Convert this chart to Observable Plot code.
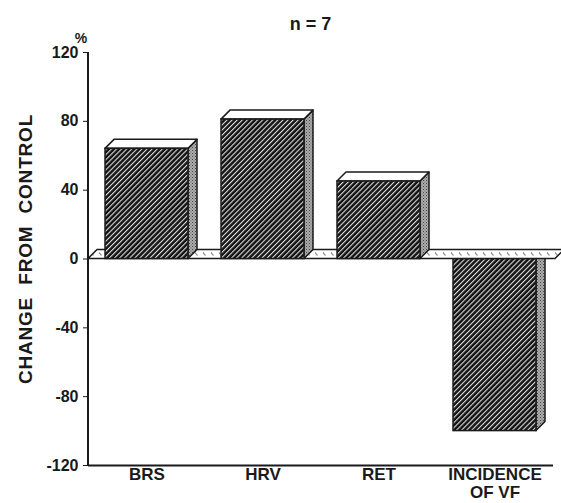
<!DOCTYPE html>
<html><head><meta charset="utf-8">
<script src="https://cdn.jsdelivr.net/npm/d3@7"></script>
<script src="https://cdn.jsdelivr.net/npm/@observablehq/plot@0.6"></script>
<style>
html,body{margin:0;padding:0;background:#fff;}
#chart svg{display:block;}
</style>
</head><body><div id="chart"></div>
<script>
const categories = ["BRS", "HRV", "RET", "INCIDENCE\nOF VF"];
const values = [64, 81, 45, -100];
const yTicks = [-120, -80, -40, 0, 40, 80, 120];
const yDomain = [-120, 120];
const title = "n = 7";
const yLabel = "CHANGE  FROM  CONTROL";
const yUnit = "%";

const data = categories.map((c, i) => ({category: c, value: values[i]}));
const pos = data.filter(d => d.value >= 0);
const neg = data.filter(d => d.value < 0);

const DEPTH = 9;
const ink = "#1a1a1a";
const FONT = "'Liberation Sans', Arial, Helvetica, sans-serif";

function defsMark() {
  const g = d3.create("svg:g");
  const defs = g.append("defs");
  const h = defs.append("pattern").attr("id", "hatch").attr("patternUnits", "userSpaceOnUse")
    .attr("width", 3.6).attr("height", 10).attr("patternTransform", "rotate(45)");
  h.append("rect").attr("width", 3.6).attr("height", 10).attr("fill", "#121212");
  h.append("rect").attr("width", 1.1).attr("height", 10).attr("fill", "#e0e0e0");
  const s = defs.append("pattern").attr("id", "stipple").attr("patternUnits", "userSpaceOnUse")
    .attr("width", 3).attr("height", 3);
  s.append("rect").attr("width", 3).attr("height", 3).attr("fill", "#ababab");
  s.append("rect").attr("x", 0).attr("y", 0).attr("width", 1).attr("height", 1).attr("fill", "#444");
  s.append("rect").attr("x", 1.5).attr("y", 1.5).attr("width", 1).attr("height", 1).attr("fill", "#666");
  return g.node();
}

function faces(rows) {
  return (index, scales) => {
    const {x, y} = scales;
    const bw = x.bandwidth();
    const g = d3.create("svg:g");
    const y0 = y(0);
    for (const d of rows) {
      const xl = x(d.category), xr = xl + bw;
      const yv = y(d.value);
      const yTop = Math.min(yv, y0), yBot = Math.max(yv, y0);
      g.append("path")
        .attr("d", `M${xr},${yTop}L${xr + DEPTH},${yTop - DEPTH}L${xr + DEPTH},${yBot - DEPTH}L${xr},${yBot}Z`)
        .attr("fill", "url(#stipple)").attr("stroke", ink).attr("stroke-width", 1.5).attr("stroke-linejoin", "round");
      if (d.value > 0) {
        g.append("path")
          .attr("d", `M${xl},${yTop}L${xr},${yTop}L${xr + DEPTH},${yTop - DEPTH}L${xl + DEPTH},${yTop - DEPTH}Z`)
          .attr("fill", "#fff").attr("stroke", ink).attr("stroke-width", 1.5).attr("stroke-linejoin", "round");
      }
    }
    return g.node();
  };
}

function floorMark(index, scales, values, dims) {
  const {y} = scales;
  const {width, marginLeft, marginRight} = dims;
  const x0 = marginLeft, x1 = width - marginRight + 2, y0 = y(0);
  const g = d3.create("svg:g");
  const p = g.append("defs").append("pattern").attr("id", "floorpat").attr("patternUnits", "userSpaceOnUse")
    .attr("x", x0).attr("y", y0 - DEPTH).attr("width", 8).attr("height", DEPTH);
  p.append("rect").attr("width", 8).attr("height", DEPTH).attr("fill", "#fff");
  p.append("line").attr("x1", 3).attr("y1", 3).attr("x2", 5.5).attr("y2", 6).attr("stroke", "#333").attr("stroke-width", 0.9);
  g.append("path")
    .attr("d", `M${x0},${y0}L${x1},${y0}L${x1 + DEPTH},${y0 - DEPTH}L${x0 + DEPTH},${y0 - DEPTH}Z`)
    .attr("fill", "url(#floorpat)").attr("stroke", ink).attr("stroke-width", 1.5).attr("stroke-linejoin", "round");
  return g.node();
}

function decorMark(index, scales, values, dims) {
  const {y} = scales;
  const {height, marginLeft, marginTop, marginBottom} = dims;
  const g = d3.create("svg:g").attr("font-family", FONT).attr("font-weight", "bold").attr("fill", ink);
  g.append("line").attr("x1", marginLeft).attr("x2", marginLeft)
    .attr("y1", y(yDomain[1])).attr("y2", y(yDomain[0])).attr("stroke", ink).attr("stroke-width", 2);
  g.append("text").attr("x", marginLeft - 7).attr("y", y(yDomain[1]) - 9)
    .attr("text-anchor", "middle").attr("font-size", 14).text(yUnit);
  const cy = (marginTop + height - marginBottom) / 2 - 9.5;
  g.append("text").attr("transform", `translate(${marginLeft - 56},${cy}) rotate(-90)`)
    .attr("text-anchor", "middle").attr("font-size", 19).attr("letter-spacing", "0.8px")
    .style("white-space", "pre").text(yLabel);
  return g.node();
}

const chart = Plot.plot({
  width: 561,
  height: 503,
  marginLeft: 88,
  marginRight: 8,
  marginTop: 52,
  marginBottom: 38,
  style: {fontFamily: FONT, fontWeight: "bold", fontSize: "16px", color: ink, background: "#fff"},
  x: {domain: categories, axis: null, paddingInner: 0.286, paddingOuter: 0.143},
  y: {domain: yDomain, ticks: yTicks, tickFormat: d => String(d), tickSize: 5, tickPadding: 5, label: null},
  marks: [
    defsMark,
    faces(neg),
    Plot.barY(neg, {x: "category", y: "value", fill: "url(#hatch)", stroke: ink, strokeWidth: 1.5}),
    floorMark,
    faces(pos),
    Plot.barY(pos, {x: "category", y: "value", fill: "url(#hatch)", stroke: ink, strokeWidth: 1.5}),
    Plot.ruleY([yDomain[0]], {stroke: ink, strokeWidth: 2}),
    decorMark,
    Plot.text(data, {x: "category", text: "category", frameAnchor: "bottom", lineAnchor: "top", dy: 2,
      fontSize: 17, fontWeight: "bold", lineHeight: 1.05, fill: ink}),
    Plot.text([title], {frameAnchor: "top", lineAnchor: "middle", dy: -28, dx: -10.5,
      fontSize: 18, fontWeight: "bold", fill: ink})
  ]
});
document.getElementById("chart").appendChild(chart);
</script>
</body></html>
